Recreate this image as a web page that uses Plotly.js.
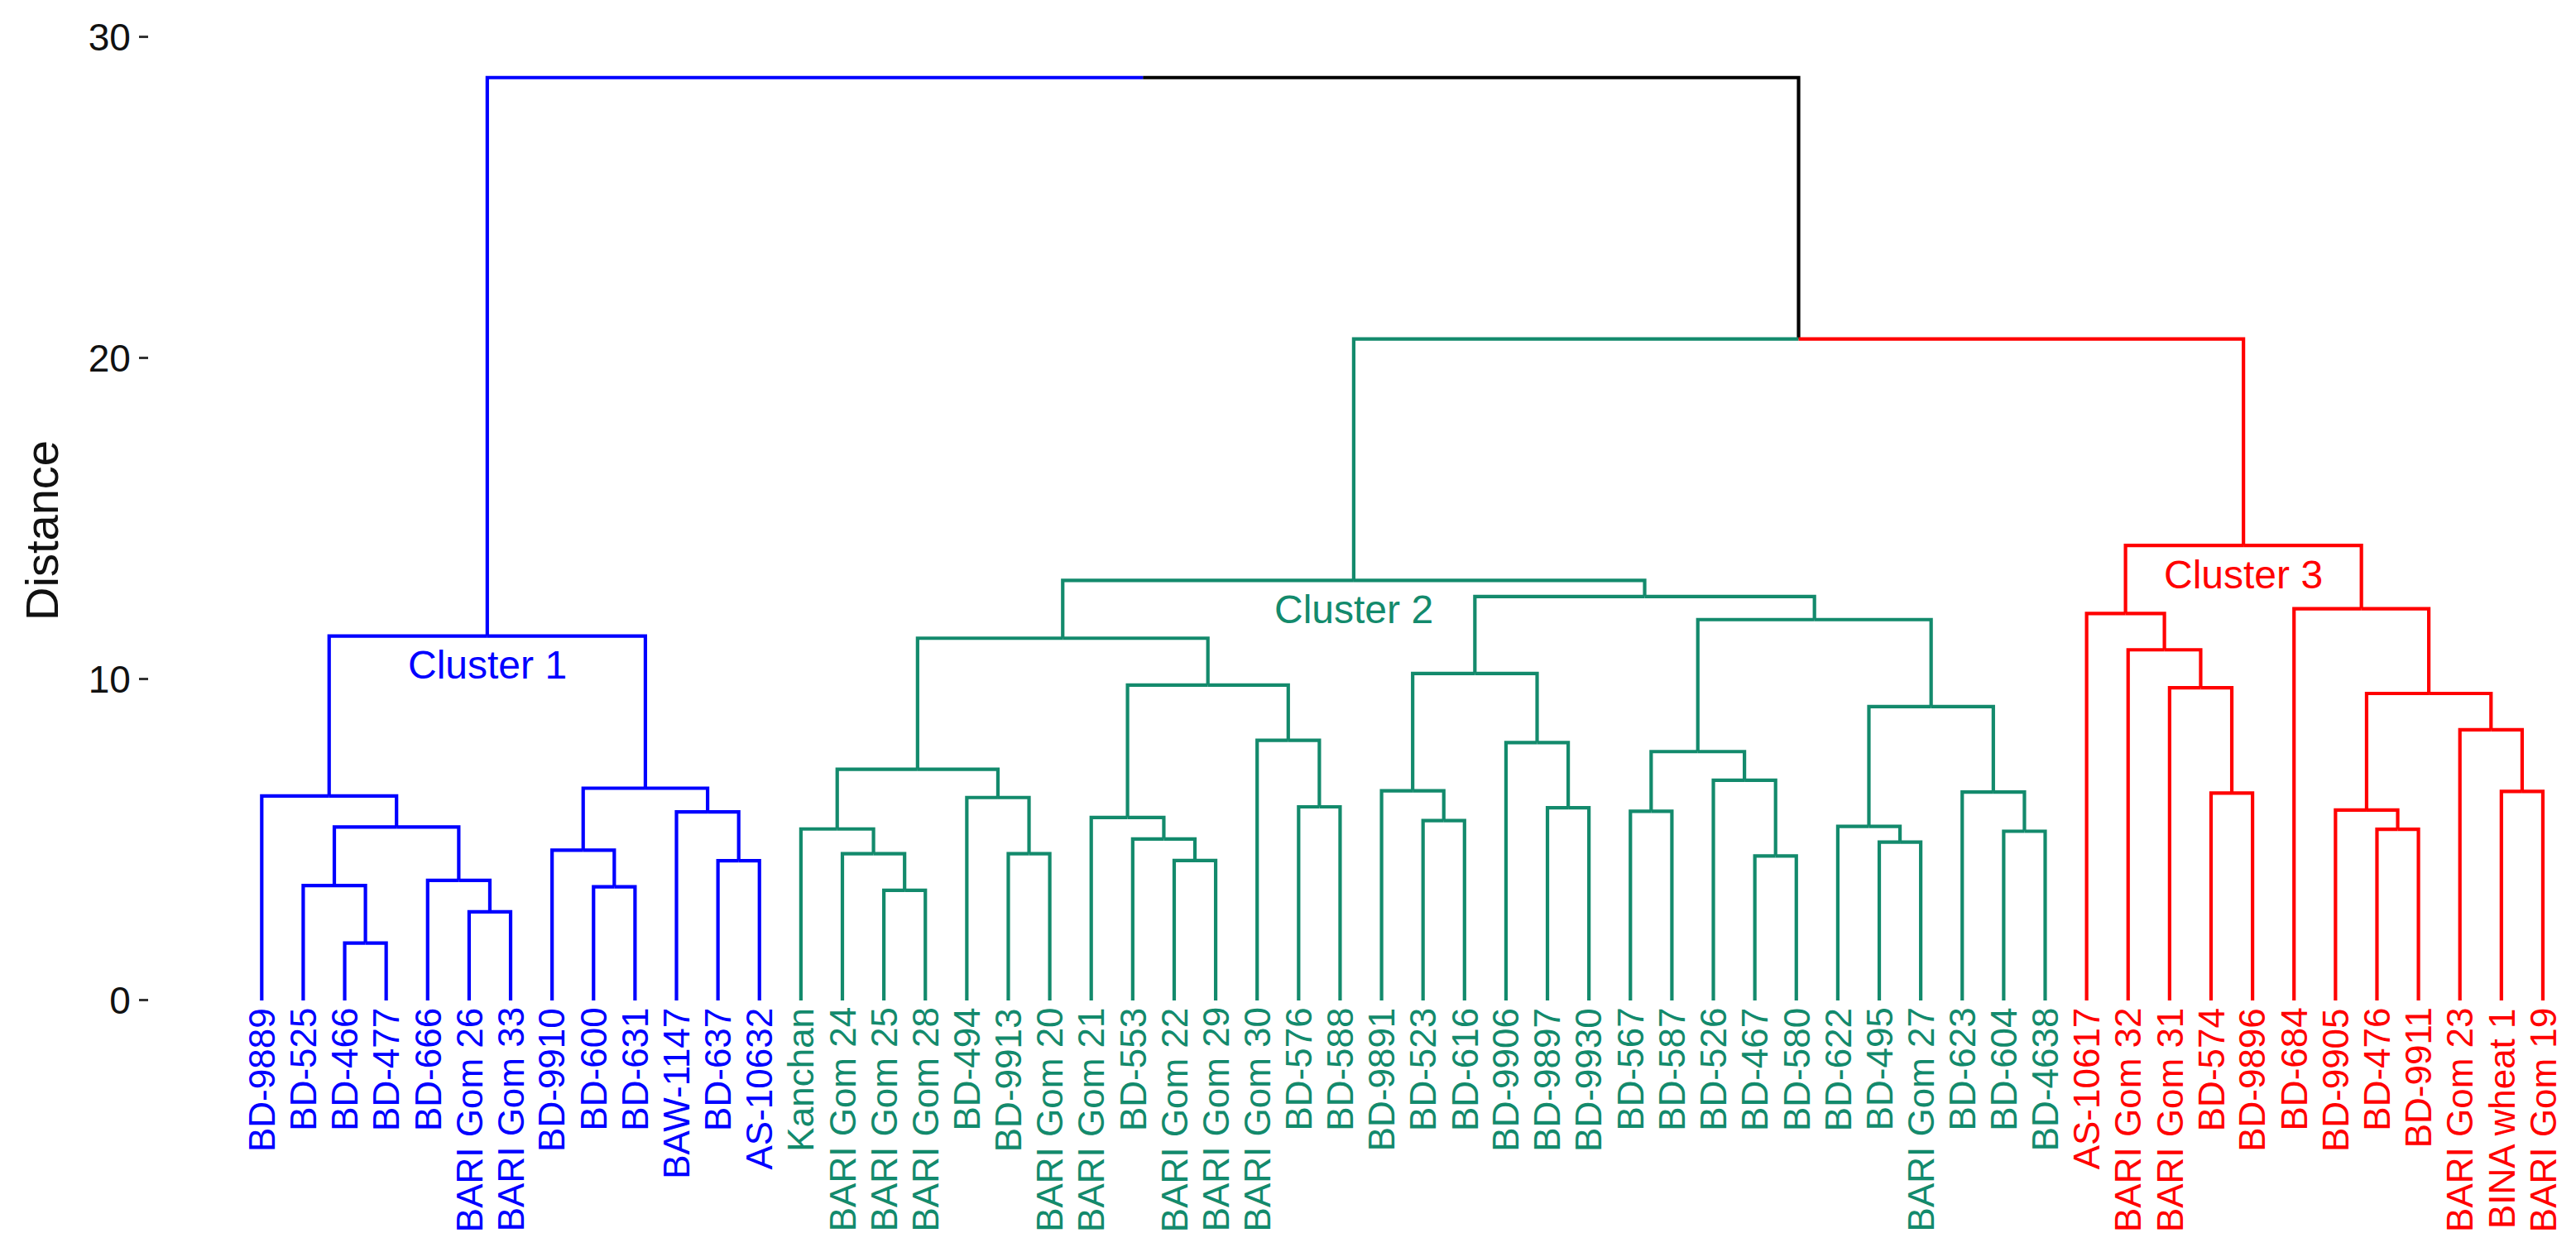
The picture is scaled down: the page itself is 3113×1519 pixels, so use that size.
<!DOCTYPE html>
<html>
<head>
<meta charset="utf-8">
<script src="https://cdn.plot.ly/plotly-3.0.1.min.js"></script>
<style>html,body{margin:0;padding:0;background:#ffffff;}</style>
</head>
<body>
<div id="chart" style="width:3113px;height:1519px;"></div>
<script>
// ---- Data ----
const leafLabels = [
  "BD-9889","BD-525","BD-466","BD-477","BD-666","BARI Gom 26","BARI Gom 33",
  "BD-9910","BD-600","BD-631","BAW-1147","BD-637","AS-10632",
  "Kanchan","BARI Gom 24","BARI Gom 25","BARI Gom 28","BD-494","BD-9913","BARI Gom 20",
  "BARI Gom 21","BD-553","BARI Gom 22","BARI Gom 29","BARI Gom 30","BD-576","BD-588",
  "BD-9891","BD-523","BD-616","BD-9906","BD-9897","BD-9930","BD-567","BD-587",
  "BD-526","BD-467","BD-580","BD-622","BD-495","BARI Gom 27","BD-623","BD-604","BD-4638",
  "AS-10617","BARI Gom 32","BARI Gom 31","BD-574","BD-9896","BD-684","BD-9905",
  "BD-476","BD-9911","BARI Gom 23","BINA wheat 1","BARI Gom 19"
];
const leafCluster = [
  1,1,1,1,1,1,1,1,1,1,1,1,1,
  2,2,2,2,2,2,2,2,2,2,2,2,2,2,2,2,2,2,2,2,2,2,2,2,2,2,2,2,2,2,2,
  3,3,3,3,3,3,3,3,3,3,3,3
];
// merges (like hclust): negative = leaf position, positive = earlier merge number
const mergeLeft  = [-3,-2,-6,-5,2,-1,-9,-8,-12,-11,8,6,
  -16,-15,-14,-19,-18,15,-23,-22,-21,-26,-25,21,18,
  -29,-28,-32,-31,27,-34,-37,-36,31,-40,-39,-43,-42,36,34,30,25,
  -48,-47,-46,-45,-52,-51,-55,-54,48,-50,46,42,12];
const mergeRight = [-4,1,-7,3,4,5,-10,7,-13,9,10,11,
  -17,13,14,-20,16,17,-24,19,20,-27,22,23,24,
  -30,26,-33,28,29,-35,-38,32,33,-41,35,-44,37,38,39,40,41,
  -49,43,44,45,-53,47,-56,49,50,51,52,53,54];
const mergeHeight = [1.79,3.58,2.76,3.74,5.40,6.37,3.54,4.68,4.35,5.87,6.61,11.35,
  3.43,4.57,5.34,4.57,6.32,7.20,4.36,5.03,5.70,6.03,8.10,9.82,11.28,
  5.60,6.53,6.00,8.03,10.18,5.89,4.50,6.86,7.75,4.93,5.42,5.27,6.49,9.15,11.86,12.58,13.08,
  6.46,9.74,10.92,12.05,5.33,5.93,6.51,8.43,9.56,12.20,14.17,20.60,28.74];
const clusterNames  = ["Cluster 1","Cluster 2","Cluster 3"];
const clusterColors = ["#0000FF","#138A6C","#FF0000"];
const clusterMerge  = [12,42,53];
const yTickValues   = [0,10,20,30];
const yTitle = "Distance";

// ---- Tree layout ----
const nodeX = [], nodeH = [], nodeCl = [];
function info(id){
  if (id < 0) return {x: -id, h: 0, cl: leafCluster[-id-1]};
  return {x: nodeX[id-1], h: nodeH[id-1], cl: nodeCl[id-1]};
}
const segs = {0:{x:[],y:[]},1:{x:[],y:[]},2:{x:[],y:[]},3:{x:[],y:[]}};
for (let m = 0; m < mergeHeight.length; m++){
  const a = info(mergeLeft[m]), b = info(mergeRight[m]);
  const X = (a.x + b.x)/2, H = mergeHeight[m];
  nodeX.push(X); nodeH.push(H); nodeCl.push(a.cl === b.cl ? a.cl : 0);
  [a,b].forEach(c => {
    const s = segs[c.cl];
    s.x.push(c.x, c.x, X, null);
    s.y.push(c.h, H, H, null);
  });
}
const lineColors = {0:"#000000",1:clusterColors[0],2:clusterColors[1],3:clusterColors[2]};
const traces = [0,1,2,3].map(k => ({
  type:"scatter", mode:"lines", x:segs[k].x, y:segs[k].y,
  line:{color:lineColors[k], width:4.2}, hoverinfo:"skip", connectgaps:false
}));

const annotations = [];
leafLabels.forEach((lab,i) => {
  annotations.push({
    x: i+1, y: -0.2, xref:"x", yref:"y", text: lab, showarrow:false,
    textangle:-90, xanchor:"center", yanchor:"top", borderpad:0,
    font:{size:44, color: clusterColors[leafCluster[i]-1], family:"Liberation Sans, Arial, sans-serif"}
  });
});
clusterNames.forEach((nm,k) => {
  const id = clusterMerge[k];
  annotations.push({
    x: nodeX[id-1], y: nodeH[id-1] - 0.9, xref:"x", yref:"y", text: nm, showarrow:false,
    xanchor:"center", yanchor:"middle", borderpad:0, bgcolor:"rgba(255,255,255,0)",
    font:{size:48, color: clusterColors[k], family:"Liberation Sans, Arial, sans-serif"}
  });
});

const layout = {
  width:3113, height:1519,
  margin:{l:180, r:20, t:20, b:257, pad:0},
  paper_bgcolor:"#ffffff", plot_bgcolor:"#ffffff",
  showlegend:false,
  font:{family:"Liberation Sans, Arial, sans-serif", color:"#111111"},
  xaxis:{range:[-1.7195,56.4], showgrid:false, zeroline:false, showline:false,
         showticklabels:false, ticks:"", fixedrange:true},
  yaxis:{range:[-1.366,30.64], tickmode:"array", tickvals:yTickValues,
         ticktext:yTickValues.map(String), ticks:"outside", ticklen:11, tickwidth:3,
         tickcolor:"#333333", showgrid:false, zeroline:false, showline:false,
         tickfont:{size:46, color:"#111111"}, ticklabelstandoff:1, automargin:false,
         title:{text:yTitle, font:{size:56, color:"#111111"}, standoff:18}},
  annotations: annotations
};
Plotly.newPlot("chart", traces, layout, {staticPlot:true, displayModeBar:false});
</script>
</body>
</html>
